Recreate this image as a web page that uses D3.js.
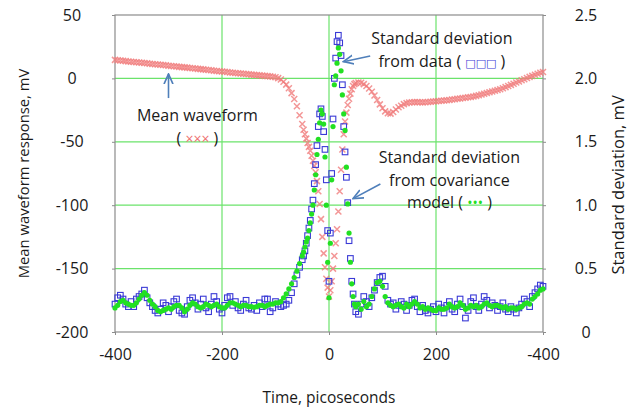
<!DOCTYPE html>
<html>
<head>
<meta charset="utf-8">
<script src="https://cdn.jsdelivr.net/npm/d3@7"></script>
<style>
  body { margin: 0; background: #fff; }
  svg text { font-family: "Open Sans", "DejaVu Sans", sans-serif; fill: #1a1a1a; }
</style>
</head>
<body>
<div id="chart"></div>
<script>
// time axis, picoseconds (5 ps steps outside the edge, 2.5 ps across it)
var times = [
  -400,-395,-390,-385,-380,-375,-370,-365,-360,-355,
  -350,-345,-340,-335,-330,-325,-320,-315,-310,-305,
  -300,-295,-290,-285,-280,-275,-270,-265,-260,-255,
  -250,-245,-240,-235,-230,-225,-220,-215,-210,-205,
  -200,-195,-190,-185,-180,-175,-170,-165,-160,-155,
  -150,-145,-140,-135,-130,-125,-120,-115,-110,-105,
  -100,-95,-90,-85,-80,-75,-70,-65,-60,-55,
  -50,
  -47.5,-45,-42.5,-40,-37.5,-35,-32.5,-30,-27.5,-25,
  -22.5,-20,-17.5,-15,-12.5,-10,-7.5,-5,-2.5,0,
  2.5,5,7.5,10,12.5,15,17.5,20,22.5,25,
  27.5,30,32.5,35,37.5,40,42.5,45,47.5,
  50,55,60,65,70,75,80,85,90,95,
  100,105,110,115,120,125,130,135,140,145,
  150,155,160,165,170,175,180,185,190,195,
  200,205,210,215,220,225,230,235,240,245,
  250,255,260,265,270,275,280,285,290,295,
  300,305,310,315,320,325,330,335,340,345,
  350,355,360,365,370,375,380,385,390,395,
  400
];

// mean waveform response, mV (left axis)
var meanWaveform = [
  14.6,14.3,14.1,13.9,13.6,13.4,13.2,13.0,12.8,12.5,
  12.3,12.1,11.9,11.6,11.4,11.2,11.0,10.7,10.5,10.3,
  10.0,9.8,9.6,9.4,9.1,8.9,8.7,8.5,8.2,8.0,
  7.8,7.5,7.3,7.1,6.8,6.6,6.4,6.1,5.9,5.7,
  5.4,5.2,5.0,4.7,4.5,4.3,4.1,3.8,3.6,3.4,
  3.2,3.0,2.8,2.6,2.4,2.2,2.0,1.8,1.6,1.3,
  0.9,0.2,-0.9,-2.6,-4.9,-7.8,-11.6,-16.3,-22.0,-29.0,
  -36.0,
  -40.5,-44,-47.5,-51,-54,-57,-61,-65,-69,-74,
  -81,-89,-99,-111,-125,-138,-149,-158,-165,-172,
  -167,-160,-150,-140,-130,-119,-105,-89,-72,-56,
  -44,-34,-27,-21,-16,-12,-8.5,-6,-4.5,
  -3.6,-3.2,-3.5,-4.5,-6,-8,-10.5,-13.5,-17,-20.5,
  -23.5,-26,-27.5,-27.8,-26.5,-24.5,-22.8,-21.5,-20.3,-19.5,
  -19.0,-18.8,-18.7,-18.7,-18.8,-18.9,-18.8,-18.6,-18.4,-18.2,
  -18.0,-17.8,-17.6,-17.4,-17.2,-17.0,-16.7,-16.4,-16.1,-15.8,
  -15.5,-15.2,-14.9,-14.6,-14.3,-13.8,-13.3,-12.7,-12.1,-11.5,
  -10.9,-10.3,-9.7,-9.1,-8.5,-7.7,-6.9,-6.0,-5.1,-4.2,
  -3.3,-2.4,-1.5,-0.6,0.3,1.2,2.0,2.9,3.7,4.4,
  5.0
];

// standard deviation from data, mV (right axis)
var sdData = [
  0.22,0.27,0.29,0.26,0.22,0.20,0.24,0.20,0.26,0.28,
  0.30,0.33,0.27,0.23,0.20,0.17,0.15,0.18,0.23,0.21,
  0.16,0.20,0.24,0.26,0.17,0.15,0.14,0.20,0.25,0.27,
  0.23,0.18,0.22,0.26,0.19,0.16,0.22,0.28,0.24,0.18,
  0.15,0.21,0.27,0.28,0.21,0.24,0.19,0.17,0.22,0.25,
  0.19,0.18,0.21,0.17,0.23,0.20,0.26,0.26,0.16,0.19,
  0.24,0.22,0.20,0.21,0.22,0.25,0.31,0.38,0.45,0.51,
  0.57,
  0.60,0.64,0.70,0.76,0.82,0.88,0.97,1.04,1.17,1.32,
  1.47,1.62,1.72,1.76,1.70,1.58,1.44,1.20,0.80,0.40,
  0.78,1.25,1.68,2.00,2.16,2.29,2.34,2.28,2.18,1.95,
  1.62,1.42,1.22,1.02,0.72,0.58,0.40,0.30,0.22,
  0.16,0.14,0.22,0.28,0.24,0.20,0.27,0.33,0.39,0.43,
  0.44,0.36,0.25,0.22,0.23,0.18,0.21,0.24,0.22,0.17,
  0.21,0.25,0.26,0.20,0.16,0.21,0.17,0.15,0.18,0.20,
  0.16,0.22,0.19,0.15,0.21,0.24,0.18,0.16,0.22,0.26,
  0.20,0.11,0.17,0.24,0.27,0.20,0.17,0.22,0.28,0.25,
  0.19,0.23,0.21,0.17,0.20,0.23,0.18,0.16,0.20,0.18,
  0.15,0.19,0.22,0.26,0.24,0.20,0.28,0.31,0.34,0.37,
  0.36
];

// standard deviation from covariance model, mV (right axis)
var sdModel = [
  0.19,0.21,0.24,0.25,0.23,0.22,0.21,0.21,0.23,0.26,
  0.29,0.31,0.29,0.25,0.22,0.20,0.17,0.16,0.17,0.18,
  0.19,0.18,0.20,0.21,0.21,0.19,0.16,0.18,0.21,0.23,
  0.22,0.20,0.19,0.20,0.22,0.21,0.20,0.21,0.22,0.20,
  0.19,0.19,0.21,0.23,0.23,0.22,0.21,0.20,0.21,0.21,
  0.20,0.20,0.195,0.20,0.21,0.21,0.20,0.21,0.22,0.22,
  0.23,0.23,0.24,0.27,0.30,0.34,0.38,0.43,0.48,0.54,
  0.60,
  0.63,0.67,0.71,0.74,0.80,0.86,0.93,1.00,1.12,1.24,
  1.40,1.52,1.65,1.75,1.72,1.64,1.38,1.00,0.55,0.27,
  0.70,1.20,1.62,1.95,2.02,2.12,2.24,2.19,2.06,1.87,
  1.72,1.59,1.30,1.01,0.78,0.55,0.38,0.28,0.22,
  0.20,0.22,0.18,0.24,0.20,0.22,0.28,0.34,0.39,0.40,
  0.36,0.28,0.23,0.21,0.20,0.21,0.22,0.20,0.19,0.22,
  0.20,0.22,0.24,0.22,0.19,0.20,0.18,0.19,0.18,0.17,
  0.17,0.19,0.18,0.18,0.19,0.22,0.20,0.19,0.20,0.23,
  0.21,0.18,0.19,0.21,0.20,0.21,0.19,0.20,0.22,0.23,
  0.21,0.20,0.21,0.21,0.20,0.19,0.20,0.18,0.19,0.19,
  0.18,0.19,0.20,0.22,0.23,0.22,0.26,0.28,0.30,0.33,
  0.34
];

var xTicks = [-400, -200, 0, 200, 400];
var xTickLabels = ["-400", "-200", "0", "200", "-400"];   // as printed on the original
var yLeftTicks = [-200, -150, -100, -50, 0, 50];
var yLeftTickLabels = ["-200", "-150", "-100", "-50", "0", "50"];
var yRightTicks = [0, 0.5, 1.0, 1.5, 2.0, 2.5];
var yRightTickLabels = ["0", "0.5", "1.0", "1.5", "2.0", "2.5"];

var width = 633, height = 410;
var margin = {top: 15, right: 90, bottom: 78, left: 115};

var svg = d3.select("#chart").append("svg")
    .attr("width", width)
    .attr("height", height);

var x = d3.scaleLinear().domain([-400, 400]).range([margin.left, width - margin.right]);
var yL = d3.scaleLinear().domain([-200, 50]).range([height - margin.bottom, margin.top]);
var yR = d3.scaleLinear().domain([0, 2.5]).range([height - margin.bottom, margin.top]);

var gridColor = "#6be36b";
var frameColor = "#8c8c8c";

// grid
svg.append("g").selectAll("line.vg")
    .data(xTicks.slice(1, -1))
    .enter().append("line")
    .attr("x1", d => x(d)).attr("x2", d => x(d))
    .attr("y1", yL(50)).attr("y2", yL(-200))
    .attr("stroke", gridColor).attr("stroke-width", 1.2);
svg.append("g").selectAll("line.hg")
    .data(yLeftTicks.slice(1, -1))
    .enter().append("line")
    .attr("x1", x(-400)).attr("x2", x(400))
    .attr("y1", d => yL(d)).attr("y2", d => yL(d))
    .attr("stroke", gridColor).attr("stroke-width", 1.2);

// frame
svg.append("rect")
    .attr("x", x(-400)).attr("y", yL(50))
    .attr("width", x(400) - x(-400)).attr("height", yL(-200) - yL(50))
    .attr("fill", "none").attr("stroke", frameColor).attr("stroke-width", 1.2);

// axes
var axisL = svg.append("g")
    .attr("transform", "translate(" + x(-400) + ",0)")
    .call(d3.axisLeft(yL).tickValues(yLeftTicks).tickSize(3).tickPadding(40)
      .tickFormat((d, i) => yLeftTickLabels[i]));
axisL.selectAll("text").attr("text-anchor", "middle");
var axisR = svg.append("g")
    .attr("transform", "translate(" + x(400) + ",0)")
    .call(d3.axisRight(yR).tickValues(yRightTicks).tickSize(3).tickPadding(40)
      .tickFormat((d, i) => yRightTickLabels[i]));
axisR.selectAll("text").attr("text-anchor", "middle");
var axisB = svg.append("g")
    .attr("transform", "translate(0," + yL(-200) + ")")
    .call(d3.axisBottom(x).tickValues(xTicks).tickSize(3).tickPadding(14)
      .tickFormat((d, i) => xTickLabels[i]));
[axisL, axisR, axisB].forEach(function(a) {
  a.select(".domain").remove();
  a.selectAll("line").attr("stroke", frameColor);
  a.selectAll("text").style("font-size", "16px").attr("fill", "#1a1a1a");
});

// axis titles
svg.append("text")
    .attr("transform", "translate(24," + yL(-75) + ") rotate(-90)")
    .attr("text-anchor", "middle").attr("dy", "0.35em")
    .style("font-size", "14.8px")
    .text("Mean waveform response, mV");
svg.append("text")
    .attr("transform", "translate(618," + yR(1.16) + ") rotate(-90)")
    .attr("text-anchor", "middle").attr("dy", "0.35em")
    .style("font-size", "16.5px")
    .text("Standard deviation, mV");
svg.append("text")
    .attr("x", x(0)).attr("y", 398).attr("dy", "0.35em")
    .attr("text-anchor", "middle")
    .style("font-size", "15.5px")
    .text("Time, picoseconds");

// series
var meanPts = times.map((t, i) => [t, meanWaveform[i]]);
var dataPts = times.map((t, i) => [t, sdData[i]]);
var modelPts = times.map((t, i) => [t, sdModel[i]]);

svg.append("g").selectAll("path")
    .data(meanPts)
    .enter().append("path")
    .attr("d", "M-3,-3L3,3M-3,3L3,-3")
    .attr("transform", d => "translate(" + x(d[0]) + "," + yL(d[1]) + ")")
    .attr("fill", "none")
    .attr("stroke", "#f07c7c")
    .attr("stroke-opacity", 0.8)
    .attr("stroke-width", 1.5);

svg.append("g").selectAll("rect")
    .data(dataPts)
    .enter().append("rect")
    .attr("x", d => x(d[0]) - 2.8)
    .attr("y", d => yR(d[1]) - 2.8)
    .attr("width", 5.6).attr("height", 5.6)
    .attr("fill", "none")
    .attr("stroke", "#3a3ad6")
    .attr("stroke-width", 1.1);

svg.append("g").selectAll("circle")
    .data(modelPts)
    .enter().append("circle")
    .attr("cx", d => x(d[0]))
    .attr("cy", d => yR(d[1]))
    .attr("r", 2.6)
    .attr("fill", "#22e022");

// annotations
var arrowColor = "#4f7fba";
svg.append("defs").append("marker")
    .attr("id", "arrow")
    .attr("viewBox", "0 0 10 10")
    .attr("refX", 9).attr("refY", 5)
    .attr("markerWidth", 7).attr("markerHeight", 7)
    .attr("orient", "auto")
    .append("path")
    .attr("d", "M0,1L9,5L0,9")
    .attr("fill", "none")
    .attr("stroke", arrowColor)
    .attr("stroke-width", 1.5);

function arrow(t1, v1, t2, v2) {
  svg.append("line")
      .attr("x1", x(t1)).attr("y1", yL(v1))
      .attr("x2", x(t2)).attr("y2", yL(v2))
      .attr("stroke", arrowColor).attr("stroke-width", 1.6)
      .attr("marker-end", "url(#arrow)");
}

function label(t, v, parts) {
  var txt = svg.append("text")
      .attr("x", x(t)).attr("y", yL(v)).attr("dy", "0.35em")
      .attr("text-anchor", "middle")
      .style("font-size", "16px");
  parts.forEach(function(p) {
    var s = txt.append("tspan").text(p[0]);
    if (p[1]) s.style("fill", p[1]).style("font-size", p[2] || "12px");
  });
}

label(-246, -28.9, [["Mean waveform"]]);
label(-246, -47, [["( "], ["\u00d7\u00d7\u00d7", "#ee7070", "14px"], [" )"]]);
arrow(-300, -15.5, -300, 3.5);

label(211, 31.9, [["Standard deviation"]]);
label(211, 13.7, [["from data ( "], ["\u25a1\u25a1\u25a1", "#3a3ad6", "11px"], [" )"]]);
arrow(77, 17.7, 27, 13.2);

label(225, -62.5, [["Standard deviation"]]);
label(225, -80.4, [["from covariance"]]);
label(225, -97.7, [["model ( "], ["\u2022\u2022\u2022", "#22e022", "14px"], [" )"]]);
arrow(96, -83.3, 45, -94.8);
</script>
</body>
</html>
